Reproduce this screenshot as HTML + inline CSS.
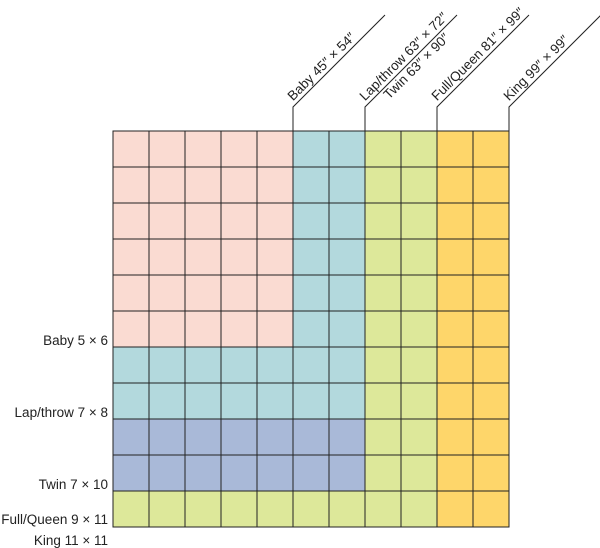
<!DOCTYPE html>
<html><head><meta charset="utf-8"><style>
body{margin:0;background:#fff;}
svg{display:block;font-family:"Liberation Sans",sans-serif;}
</style></head><body>
<svg id="chart" width="600" height="548" viewBox="0 0 600 548">
<g id="cells"></g>
<g id="labels"></g>
</svg>
<script>
const NS="http://www.w3.org/2000/svg";
// Sizes in blocks (cols x rows), drawn largest first
const sizeNames=["King","Full/Queen","Twin","Lap/throw","Baby"];
const sizeCols=[11,9,7,7,5];
const sizeRows=[11,11,10,8,6];
const sizeColors=["#fed66a","#dde89a","#a9b9d8","#b3d9dd","#fadbd2"];
const leftLabels=["Baby 5 × 6","Lap/throw 7 × 8","Twin 7 × 10","Full/Queen 9 × 11","King 11 × 11"];
const topLabels=["Baby 45″ × 54″","Lap/throw 63″ × 72″","Full/Queen 81″ × 99″","King 99″ × 99″"];
const topCols=[5,7,9,11];
const x0=113,y0=131,cell=36;
const X=c=>x0+c*cell, Y=r=>y0+r*cell;
const cells=document.getElementById('cells'), labels=document.getElementById('labels');
function el(t,a,p){const e=document.createElementNS(NS,t);for(const k in a)e.setAttribute(k,a[k]);p.appendChild(e);return e;}
for(let r=0;r<11;r++)for(let c=0;c<11;c++){
  let color="#fff";
  for(let i=0;i<sizeNames.length;i++) if(c<sizeCols[i]&&r<sizeRows[i]) color=sizeColors[i];
  const e=el('rect',{x:X(c),y:Y(r),width:cell,height:cell,fill:color,stroke:"#222","stroke-width":1},cells);
  
  
}
const leftY=[345,417,489,524,545];
leftLabels.forEach((t,i)=>{
  const e=el('text',{x:108,y:leftY[i],"text-anchor":"end","font-size":13.5,fill:"#222"},labels);
  e.textContent=t;
  
  
});
topLabels.forEach((t,i)=>{
  const x=X(topCols[i]);
  const p=el('path',{d:`M${x},${y0} V107 l92,-92`,fill:"none",stroke:"#222","stroke-width":1},labels);
  
  
  const g=el('g',{transform:`translate(${x},107) rotate(-45)`},labels);
  const e=el('text',{x:4,y:-4,"font-size":13.5,fill:"#222"},g);
  e.textContent=t;
  
  
  if(i===1){
    const e2=el('text',{x:22,y:12,"font-size":13.5,fill:"#222"},g);
    e2.textContent="Twin 63″ × 90″";
    
    
  }
});
</script>
</body></html>
